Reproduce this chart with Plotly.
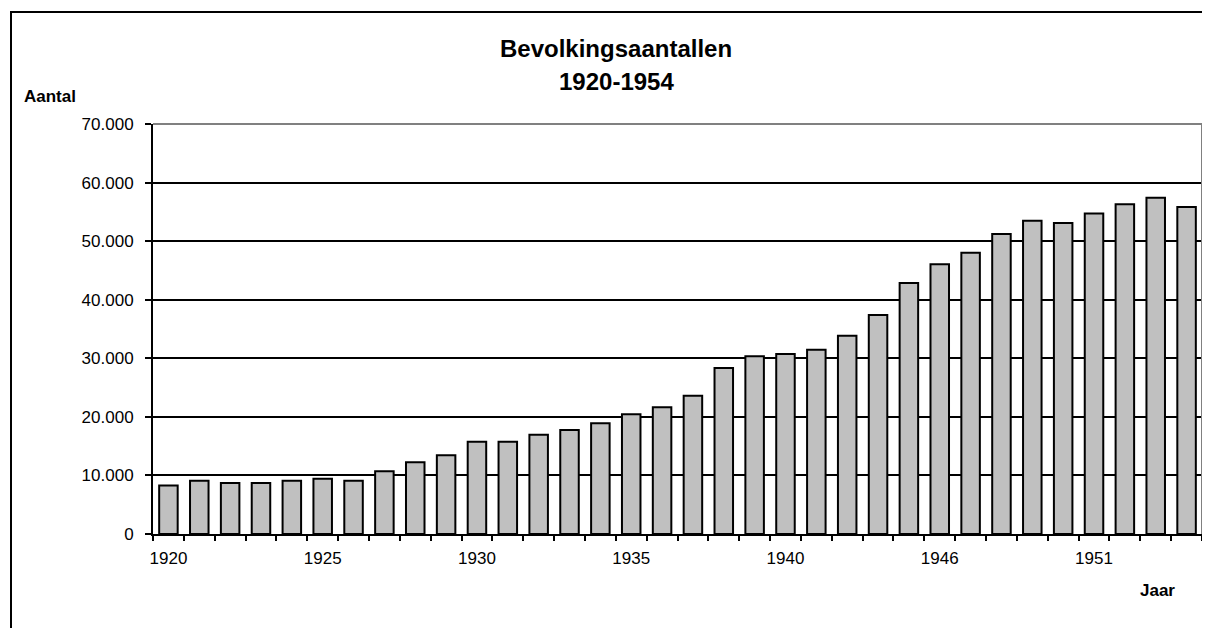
import plotly.graph_objects as go

# ---- data ----
years = ["1920", "1921", "1922", "1923", "1924", "1925", "1926", "1927", "1928", "1929",
         "1930", "1931", "1932", "1933", "1934", "1935", "1936", "1937", "1938", "1939",
         "1940", "1941", "1942", "1943", "1944", "1946", "1947", "1948", "1949", "1950",
         "1951", "1952", "1953", "1954"]
population = [8300, 9100, 8700, 8700, 9100, 9450, 9100, 10700, 12250, 13450,
              15750, 15750, 16950, 17750, 18900, 20450, 21650, 23600, 28350, 30350,
              30750, 31450, 33850, 37400, 42850, 46050, 48000, 51200, 53500, 53100,
              54700, 56300, 57400, 55850]
tick_labels = [y if i % 5 == 0 else "" for i, y in enumerate(years)]

title_line1 = "Bevolkingsaantallen"
title_line2 = "1920-1954"
y_title = "Aantal"
x_title = "Jaar"

# ---- geometry (page pixels; the page body has an 8px margin) ----
OFF = 8
W, H = 1210 - OFF, 628 - OFF
PL, PR, PT, PB = 153, 1202, 124, 534      # plot area in page pixels
L, T = PL - OFF, PT - OFF
R = W - (PR - OFF)
B = H - (PB - OFF)
pw, ph = W - L - R, H - T - B

def px_x(x):
    return (x - PL) / pw

def px_y(y):
    return (PB - y) / ph

FONT = "Liberation Sans, Arial, sans-serif"

fig = go.Figure(go.Bar(
    x=years, y=population,
    marker=dict(color="#C0C0C0", line=dict(color="black", width=2)),
    hoverinfo="x+y",
))

fig.update_layout(
    width=W, height=H,
    margin=dict(l=L, r=R, t=T, b=B, pad=0),
    paper_bgcolor="white", plot_bgcolor="white",
    separators=",.",
    bargap=0.4,
    showlegend=False,
    font=dict(family=FONT, color="black", size=17),
    xaxis=dict(
        type="category",
        tickmode="array", tickvals=years, ticktext=tick_labels,
        tickson="boundaries", tickangle=0,
        ticks="outside", ticklen=5, tickwidth=2, tickcolor="black",
        showline=True, linecolor="black", linewidth=2,
        showgrid=False, zeroline=False,
        tickfont=dict(size=17, family=FONT),
        ticklabelstandoff=8,
        range=[-0.5, len(years) - 0.5],
    ),
    yaxis=dict(
        range=[0, 70000], dtick=10000, tick0=0,
        tickformat=",d",
        ticks="outside", ticklen=6, tickwidth=2, tickcolor="black",
        showline=True, linecolor="black", linewidth=2,
        showgrid=True, gridcolor="black", gridwidth=1.5,
        zeroline=False,
        tickfont=dict(size=17, family=FONT),
        ticklabelstandoff=8,
    ),
)

shapes = [
    # gray top and right borders of plot area
    dict(type="line", xref="paper", yref="paper", x0=0, x1=1, y0=1, y1=1,
         line=dict(color="#808080", width=2), layer="above"),
    dict(type="line", xref="paper", yref="paper", x0=1, x1=1, y0=0, y1=1,
         line=dict(color="#808080", width=2), layer="above"),
    # outer chart border (extends beyond the picture on right/bottom)
    dict(type="rect", xref="paper", yref="paper",
         x0=px_x(11), x1=px_x(1225), y0=px_y(645), y1=px_y(12),
         line=dict(color="black", width=2), fillcolor="rgba(0,0,0,0)", layer="above"),
]
fig.update_layout(shapes=shapes)

annotations = [
    dict(text=f"<b>{title_line1}</b>", xref="paper", yref="paper",
         x=px_x(616), y=px_y(48), xanchor="center", yanchor="middle",
         showarrow=False, font=dict(size=24, family=FONT)),
    dict(text=f"<b>{title_line2}</b>", xref="paper", yref="paper",
         x=px_x(616), y=px_y(82), xanchor="center", yanchor="middle",
         showarrow=False, font=dict(size=24, family=FONT)),
    dict(text=f"<b>{y_title}</b>", xref="paper", yref="paper",
         x=px_x(22), y=px_y(97), xanchor="left", yanchor="middle",
         showarrow=False, font=dict(size=17, family=FONT)),
    dict(text=f"<b>{x_title}</b>", xref="paper", yref="paper",
         x=px_x(1157), y=px_y(590), xanchor="center", yanchor="middle",
         showarrow=False, font=dict(size=17, family=FONT)),
]
fig.update_layout(annotations=annotations)

fig.write_html("out.html")
